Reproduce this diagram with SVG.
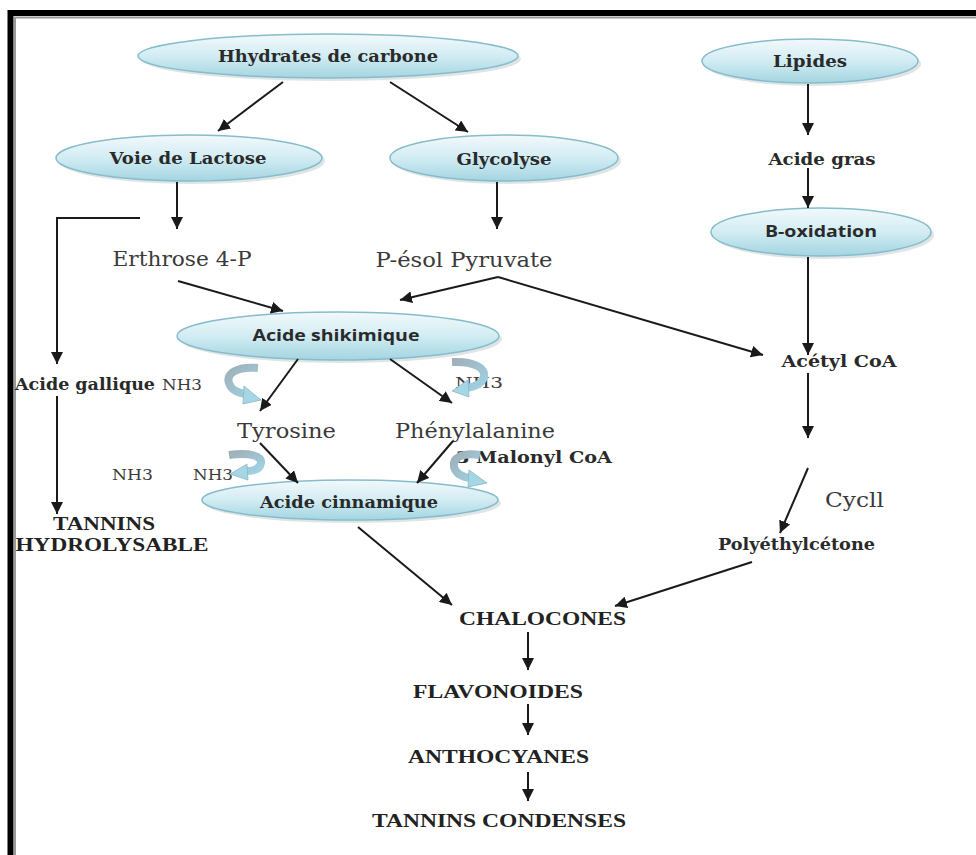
<svg xmlns="http://www.w3.org/2000/svg" width="976" height="855" viewBox="0 0 976 855">
<defs>
<linearGradient id="eg" x1="0" y1="0" x2="0" y2="1">
<stop offset="0" stop-color="#f2f9fb"/>
<stop offset="0.5" stop-color="#d2ecf3"/>
<stop offset="1" stop-color="#a3d5e1"/>
</linearGradient>
<linearGradient id="cg" x1="0" y1="0" x2="1" y2="1">
<stop offset="0" stop-color="#9fb0b8"/>
<stop offset="1" stop-color="#9fd3e6"/>
</linearGradient>
<marker id="ah" viewBox="0 0 10 10" refX="10" refY="5" markerWidth="6" markerHeight="6" orient="auto">
<path d="M0,0 L10,5 L0,10 z" fill="#1a1a1a"/>
</marker>
</defs>
<style>
.ell{fill:url(#eg);stroke:#86bccb;stroke-width:1.5}
.sh{fill:#c9d3d6;opacity:0.6}
.bs{font-family:"DejaVu Serif","Liberation Serif",serif;font-weight:bold;font-size:17.5px;fill:#2a2a2a}
.ss{font-family:"Open Sans","Liberation Sans",sans-serif;font-weight:bold;font-size:16px;fill:#2a2a2a}
.rs{font-family:"DejaVu Serif","Liberation Serif",serif;font-size:20px;fill:#3a3a3a}
.nh{font-family:"DejaVu Serif","Liberation Serif",serif;font-size:14px;fill:#3a3a3a}
.cap{font-family:"Liberation Serif","Times New Roman",serif;font-weight:bold;font-size:19px;fill:#222}
.ln{fill:none;stroke:#1a1a1a;stroke-width:2;marker-end:url(#ah)}
.cb{fill:none;stroke:url(#cg);stroke-width:8;stroke-linecap:butt}
.ch{fill:#a5d6e6;stroke:#8fb5c2;stroke-width:0.8}
</style>
<rect width="976" height="855" fill="#ffffff"/>
<!-- frame -->
<path d="M10.5 855 V13 H976" fill="none" stroke="#000" stroke-width="6"/>
<path d="M15 855 V17.5 H976" fill="none" stroke="#9a9a9a" stroke-width="2"/>

<g id="n-hydrates">
<ellipse class="sh" cx="331" cy="59" rx="190" ry="22"/>
<ellipse class="ell" cx="328" cy="56" rx="190" ry="22"/>
<text class="bs" x="328" y="62" text-anchor="middle" textLength="220" lengthAdjust="spacingAndGlyphs">Hhydrates de carbone</text>
</g>
<g id="n-lipides">
<ellipse class="sh" cx="813" cy="64" rx="108" ry="22"/>
<ellipse class="ell" cx="810" cy="61" rx="108" ry="22"/>
<text class="bs" x="810" y="67" text-anchor="middle" textLength="74" lengthAdjust="spacingAndGlyphs">Lipides</text>
</g>
<g id="n-lactose">
<ellipse class="sh" cx="192" cy="161" rx="133" ry="23"/>
<ellipse class="ell" cx="189" cy="158" rx="133" ry="23"/>
<text class="bs" x="188" y="164" text-anchor="middle" textLength="157" lengthAdjust="spacingAndGlyphs">Voie de Lactose</text>
</g>
<g id="n-glycolyse">
<ellipse class="sh" cx="507" cy="161" rx="114" ry="23"/>
<ellipse class="ell" cx="504" cy="158" rx="114" ry="23"/>
<text class="bs" x="504" y="165" text-anchor="middle" textLength="95" lengthAdjust="spacingAndGlyphs">Glycolyse</text>
</g>
<g id="n-acidegras">
<text class="bs" x="822" y="165" text-anchor="middle" textLength="107" lengthAdjust="spacingAndGlyphs">Acide gras</text>
</g>
<g id="n-boxidation">
<ellipse class="sh" cx="824" cy="235" rx="110" ry="24"/>
<ellipse class="ell" cx="821" cy="232" rx="110" ry="24"/>
<text class="ss" x="821" y="237" text-anchor="middle" textLength="112" lengthAdjust="spacingAndGlyphs">B-oxidation</text>
</g>
<g id="n-erthrose">
<text class="rs" x="182" y="266" text-anchor="middle" textLength="139" lengthAdjust="spacingAndGlyphs">Erthrose 4-P</text>
</g>
<g id="n-pesol">
<text class="rs" x="464" y="267" text-anchor="middle" textLength="177" lengthAdjust="spacingAndGlyphs">P-ésol Pyruvate</text>
</g>
<g id="n-shikimique">
<ellipse class="sh" cx="341" cy="339" rx="161" ry="24"/>
<ellipse class="ell" cx="338" cy="336" rx="161" ry="24"/>
<text class="ss" x="336" y="341" text-anchor="middle" textLength="167" lengthAdjust="spacingAndGlyphs">Acide shikimique</text>
</g>
<g id="n-acetyl">
<text class="bs" x="839" y="367" text-anchor="middle" textLength="115" lengthAdjust="spacingAndGlyphs">Acétyl CoA</text>
</g>
<g id="n-gallique">
<text class="bs" x="15" y="390" textLength="140" lengthAdjust="spacingAndGlyphs">Acide gallique</text>
<text class="nh" x="162" y="390" textLength="40" lengthAdjust="spacingAndGlyphs">NH3</text>
</g>
<g id="n-nh3-right">
<text class="nh" x="455" y="388" textLength="48" lengthAdjust="spacingAndGlyphs">NH3</text>
</g>
<g id="n-tyrosine">
<text class="rs" x="237" y="438" textLength="99" lengthAdjust="spacingAndGlyphs">Tyrosine</text>
</g>
<g id="n-phenyl">
<text class="rs" x="395" y="438" textLength="160" lengthAdjust="spacingAndGlyphs">Phénylalanine</text>
</g>
<g id="n-malonyl">
<text class="bs" x="456" y="463" textLength="156" lengthAdjust="spacingAndGlyphs">3 Malonyl CoA</text>
</g>
<g id="n-nh3-low">
<text class="nh" x="112" y="480" textLength="41" lengthAdjust="spacingAndGlyphs">NH3</text>
<text class="nh" x="193" y="480" textLength="40" lengthAdjust="spacingAndGlyphs">NH3</text>
</g>
<g id="n-cinnamique">
<ellipse class="sh" cx="353" cy="503" rx="148" ry="20"/>
<ellipse class="ell" cx="350" cy="500" rx="148" ry="20"/>
<text class="bs" x="260" y="508" textLength="178" lengthAdjust="spacingAndGlyphs">Acide cinnamique</text>
</g>
<g id="n-tannins-h">
<text class="cap" x="104" y="530" text-anchor="middle" textLength="102" lengthAdjust="spacingAndGlyphs">TANNINS</text>
<text class="cap" x="112" y="551" text-anchor="middle" textLength="193" lengthAdjust="spacingAndGlyphs">HYDROLYSABLE</text>
</g>
<g id="n-cycll">
<text class="rs" x="825" y="507" textLength="59" lengthAdjust="spacingAndGlyphs">Cycll</text>
</g>
<g id="n-polyethyl">
<text class="bs" x="718" y="550" textLength="157" lengthAdjust="spacingAndGlyphs">Polyéthylcétone</text>
</g>
<g id="n-chalocones">
<text class="cap" x="459" y="625" textLength="167" lengthAdjust="spacingAndGlyphs">CHALOCONES</text>
</g>
<g id="n-flavonoides">
<text class="cap" x="413" y="698" textLength="170" lengthAdjust="spacingAndGlyphs">FLAVONOIDES</text>
</g>
<g id="n-anthocyanes">
<text class="cap" x="408" y="763" textLength="181" lengthAdjust="spacingAndGlyphs">ANTHOCYANES</text>
</g>
<g id="n-tannins-c">
<text class="cap" x="372" y="827" textLength="254" lengthAdjust="spacingAndGlyphs">TANNINS CONDENSES</text>
</g>

<g id="connectors">
<line class="ln" x1="283" y1="82" x2="218" y2="131"/>
<line class="ln" x1="390" y1="82" x2="468" y2="132"/>
<line class="ln" x1="808" y1="84" x2="808" y2="135"/>
<line class="ln" x1="808" y1="168" x2="808" y2="208"/>
<line class="ln" x1="808" y1="257" x2="808" y2="355"/>
<line class="ln" x1="177" y1="182" x2="177" y2="229"/>
<line class="ln" x1="497" y1="182" x2="497" y2="229"/>
<polyline class="ln" points="140,218 57,218 57,364"/>
<line class="ln" x1="57" y1="396" x2="57" y2="514"/>
<line class="ln" x1="178" y1="281" x2="283" y2="311"/>
<line class="ln" x1="498" y1="277" x2="400" y2="300"/>
<line class="ln" x1="498" y1="277" x2="763" y2="355"/>
<line class="ln" x1="298" y1="359" x2="260" y2="411"/>
<line class="ln" x1="390" y1="359" x2="452" y2="403"/>
<line class="ln" x1="260" y1="443" x2="298" y2="483"/>
<line class="ln" x1="453" y1="441" x2="417" y2="483"/>
<line class="ln" x1="808" y1="373" x2="808" y2="438"/>
<line class="ln" x1="808" y1="468" x2="780" y2="533"/>
<line class="ln" x1="358" y1="527" x2="452" y2="605"/>
<line class="ln" x1="752" y1="562" x2="615" y2="606"/>
<line class="ln" x1="528" y1="632" x2="528" y2="670"/>
<line class="ln" x1="528" y1="704" x2="528" y2="735"/>
<line class="ln" x1="528" y1="772" x2="528" y2="801"/>
</g>

<g id="curved-arrows">
<path class="cb" d="M258 368 C236 366 226 374 229 383 C231 390 238 393 246 394"/>
<polygon class="ch" points="244,386 261,400 243,404"/>
<path class="cb" d="M452 362 C474 361 486 368 484 377 C482 384 474 387 466 388"/>
<polygon class="ch" points="468,380 452,391 469,397"/>
<path class="cb" d="M229 455 C250 452 262 456 261 463 C260 469 253 471 246 471"/>
<polygon class="ch" points="247,464 230,474 248,480"/>
<path class="cb" d="M480 455 C462 452 452 458 454 467 C456 474 462 477 470 478"/>
<polygon class="ch" points="469,470 487,483 468,487"/>
</g>
</svg>
